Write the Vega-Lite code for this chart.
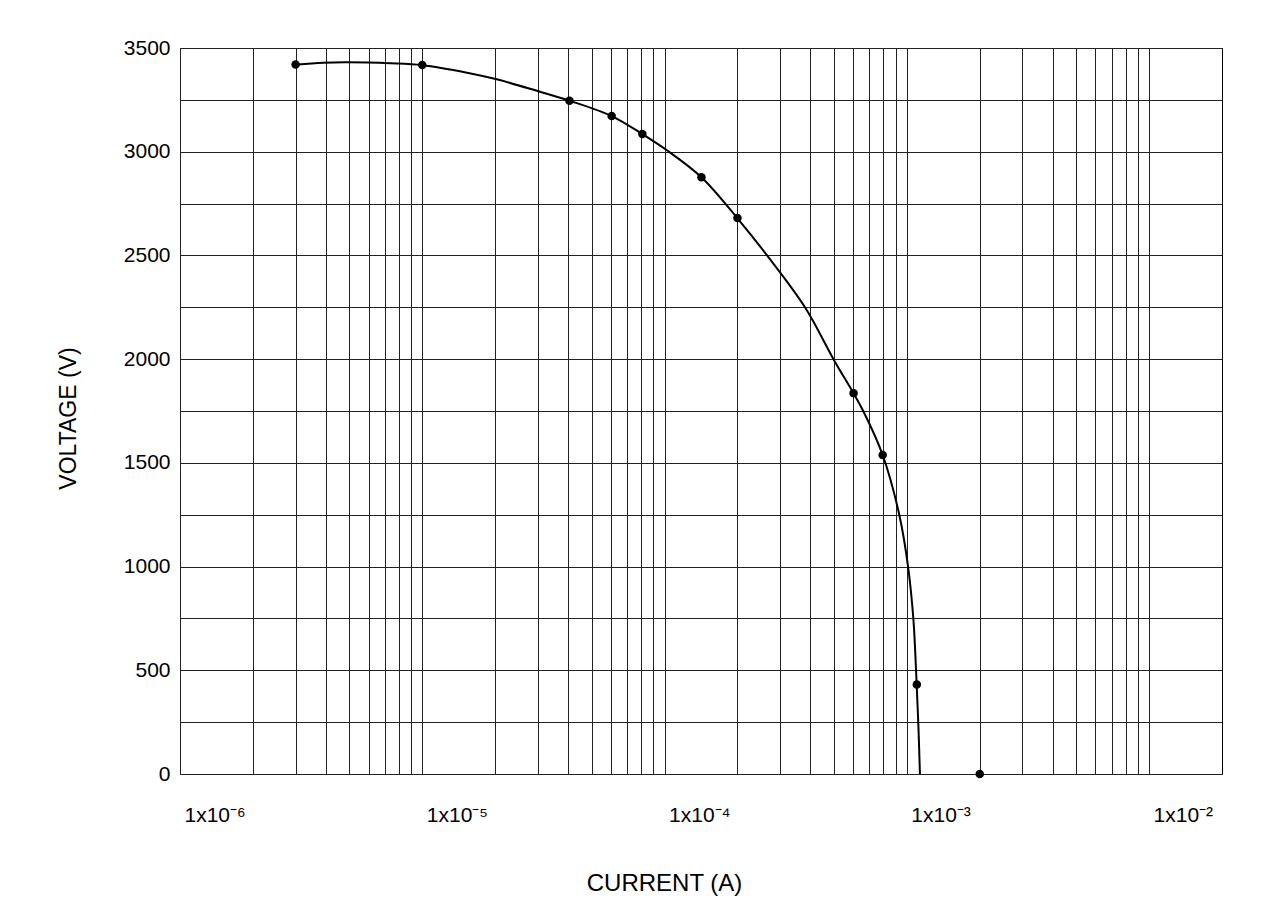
{
  "$schema": "https://vega.github.io/schema/vega-lite/v6.json",
  "width": 1042,
  "height": 726,
  "autosize": {"type": "none"},
  "padding": {"left": 180, "top": 48, "right": 66, "bottom": 149},
  "background": "white",
  "config": {
    "view": {"stroke": "#000", "strokeWidth": 1},
    "font": "Liberation Sans",
    "axis": {
      "domain": false,
      "ticks": false,
      "tickSize": 0,
      "grid": true,
      "gridColor": "#222",
      "gridWidth": 1,
      "gridOpacity": 1,
      "labelFont": "Liberation Sans",
      "labelFontSize": 21,
      "labelColor": "#000",
      "titleFont": "Liberation Sans",
      "titleFontSize": 23,
      "titleFontWeight": "normal",
      "titleColor": "#000"
    }
  },
  "datasets": {
    "curve": [
      {"current": 3.0e-6, "voltage": 3419},
      {"current": 3.9e-6, "voltage": 3429},
      {"current": 4.9e-6, "voltage": 3431},
      {"current": 7.4e-6, "voltage": 3426},
      {"current": 1.0e-5, "voltage": 3417},
      {"current": 1.53e-5, "voltage": 3381},
      {"current": 2.03e-5, "voltage": 3349},
      {"current": 3.06e-5, "voltage": 3289},
      {"current": 4.05e-5, "voltage": 3246},
      {"current": 6.05e-5, "voltage": 3172},
      {"current": 8.1e-5, "voltage": 3085},
      {"current": 1.02e-4, "voltage": 3008},
      {"current": 1.42e-4, "voltage": 2877},
      {"current": 2.0e-4, "voltage": 2679},
      {"current": 2.65e-4, "voltage": 2500},
      {"current": 3.8e-4, "voltage": 2250},
      {"current": 4.98e-4, "voltage": 2000},
      {"current": 6.03e-4, "voltage": 1835},
      {"current": 6.61e-4, "voltage": 1750},
      {"current": 7.95e-4, "voltage": 1538},
      {"current": 9.31e-4, "voltage": 1250},
      {"current": 1.012e-3, "voltage": 1000},
      {"current": 1.064e-3, "voltage": 750},
      {"current": 1.092e-3, "voltage": 500},
      {"current": 1.115e-3, "voltage": 250},
      {"current": 1.133e-3, "voltage": 0}
    ],
    "points": [
      {"current": 3.0e-6, "voltage": 3420},
      {"current": 1.0e-5, "voltage": 3418},
      {"current": 4.05e-5, "voltage": 3246},
      {"current": 6.05e-5, "voltage": 3172},
      {"current": 8.1e-5, "voltage": 3085},
      {"current": 1.42e-4, "voltage": 2877},
      {"current": 2.0e-4, "voltage": 2680},
      {"current": 6.03e-4, "voltage": 1836},
      {"current": 7.95e-4, "voltage": 1538},
      {"current": 1.1e-3, "voltage": 432},
      {"current": 2.0e-3, "voltage": 0}
    ]
  },
  "encoding": {
    "x": {
      "field": "current",
      "type": "quantitative",
      "scale": {"type": "log", "domain": [1e-6, 2e-2], "nice": false},
      "axis": {
        "title": "CURRENT (A)",
        "titleFontSize": 24,
        "values": [1e-6, 2e-6, 3e-6, 4e-6, 5e-6, 6e-6, 7e-6, 8e-6, 9e-6,
                   1e-5, 2e-5, 3e-5, 4e-5, 5e-5, 6e-5, 7e-5, 8e-5, 9e-5,
                   1e-4, 2e-4, 3e-4, 4e-4, 5e-4, 6e-4, 7e-4, 8e-4, 9e-4,
                   1e-3, 2e-3, 3e-3, 4e-3, 5e-3, 6e-3, 7e-3, 8e-3, 9e-3, 1e-2],
        "labelExpr": "datum.value == 1e-6 ? '1x10⁻⁶' : datum.value == 1e-5 ? '1x10⁻⁵' : datum.value == 1e-4 ? '1x10⁻⁴' : datum.value == 1e-3 ? '1x10⁻³' : datum.value == 1e-2 ? '1x10⁻²' : ''",
        "labelAlign": "left",
        "labelBaseline": "top",
        "labelPadding": 30,
        "labelOffset": 4,
        "labelOverlap": false,
        "labelFlush": false,
        "titleX": 484,
        "titleY": 97,
        "titleBaseline": "top",
        "titleAnchor": null
      }
    },
    "y": {
      "field": "voltage",
      "type": "quantitative",
      "scale": {"domain": [0, 3500], "nice": false, "zero": true},
      "axis": {
        "title": "VOLTAGE (V)",
        "values": [0, 250, 500, 750, 1000, 1250, 1500, 1750, 2000, 2250, 2500, 2750, 3000, 3250, 3500],
        "format": "d",
        "labelExpr": "datum.value % 500 == 0 ? datum.label : ''",
        "labelPadding": 10,
        "labelBaseline": "middle",
        "labelOverlap": false,
        "labelFlush": false,
        "titleX": -100,
        "titleY": 370,
        "titleAngle": -90,
        "titleBaseline": "bottom",
        "titleAlign": "center"
      }
    }
  },
  "layer": [
    {
      "data": {"name": "curve"},
      "mark": {"type": "line", "color": "#000", "strokeWidth": 2, "interpolate": "catmull-rom"}
    },
    {
      "data": {"name": "points"},
      "mark": {"type": "point", "filled": true, "color": "#000", "size": 72, "opacity": 1}
    }
  ]
}
